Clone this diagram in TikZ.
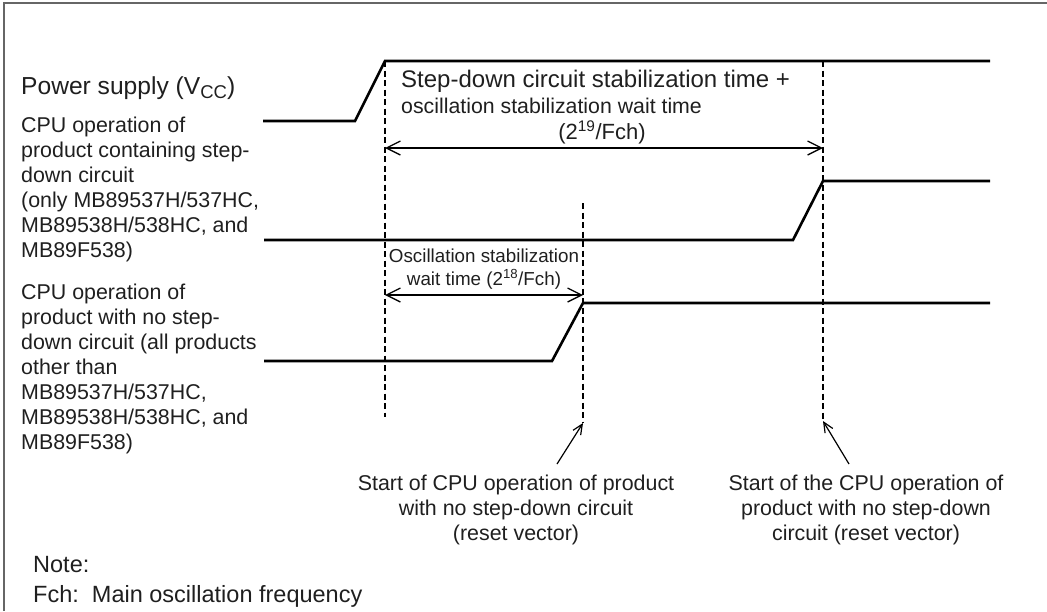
\documentclass[tikz,border=0pt]{standalone}
\usepackage{fontspec}
\setmainfont{Liberation Sans}
\usetikzlibrary{arrows.meta}
\newcommand\fsz[1]{\fontsize{#1}{#1}\selectfont}

\begin{document}
\begin{tikzpicture}[x=1pt,y=-1pt,
  wave/.style={line width=2.6pt, line join=miter, line cap=butt},
  guide/.style={line width=1.2pt, dash pattern=on 6pt off 3.5pt},
  dim/.style={line width=1.3pt,
    {Straight Barb[length=14pt,width=14pt]}-{Straight Barb[length=14pt,width=14pt]}},
  ptr/.style={line width=1.2pt, -{Straight Barb[length=10pt,width=9pt]}},
  lbl/.style={anchor=base west, inner sep=0pt, font=\fsz{21.4}, text=black!88},
  ctr/.style={anchor=base, inner sep=0pt, font=\fsz{21.4}, text=black!88}]

\useasboundingbox (0,0) rectangle (1047,611);

% frame
\draw[black!60, line width=1.6pt] (4,611) -- (4,3) -- (1047,3);

% timing guides
\coordinate (dA top) at (385,61);
\coordinate (dA bot) at (385,417);
\coordinate (dB top) at (583,203);
\coordinate (dB bot) at (583,423);
\coordinate (dC top) at (823,61);
\coordinate (dC bot) at (823,421);
\draw[guide] (dA top) -- (dA bot);
\draw[guide] (dB top) -- (dB bot);
\draw[guide] (dC top) -- (dC bot);

% waveforms
\draw[wave] (263,121) -- (355,121) -- (dA top) -- (990,61);
\draw[wave] (264,240) -- (793,240) -- (823,181) -- (990,181);
\draw[wave] (264,361) -- (552,361) -- (583,303) -- (990,303);

% left labels
\node[lbl, font=\fsz{24.6}] (vcc) at (21,94)
  {Power supply (V{\fsz{18.5}\raisebox{-4pt}{CC}})};
\foreach \t [count=\i] in {{CPU operation of},{product containing step-},{down circuit},
    {(only MB89537H/537HC,},{MB89538H/538HC, and},{MB89F538)}}
  \node[lbl] (up\i) at (21,{107+25*\i}) {\t};
\foreach \t [count=\i] in {{CPU operation of},{product with no step-},{down circuit (all products},
    {other than},{MB89537H/537HC,},{MB89538H/538HC, and},{MB89F538)}}
  \node[lbl] (lo\i) at (21,{274+25*\i}) {\t};

% wait time spans
\node[lbl, font=\fsz{24}] (sd1) at (401,87) {Step-down circuit stabilization time +};
\node[lbl, font=\fsz{21.3}] (sd2) at (401,113) {oscillation stabilization wait time};
\node[ctr, font=\fsz{22}] (sd3) at (602,139) {(2\textsuperscript{19}/Fch)};
\coordinate (w19L) at (385,148);
\coordinate (w19R) at (823,148);
\draw[dim] (w19L) -- (w19R);

\node[ctr, font=\fsz{18.8}] (os1) at (484,262) {Oscillation stabilization};
\node[ctr, font=\fsz{18.8}] (os2) at (484,285) {wait time (2\textsuperscript{18}/Fch)};
\coordinate (w18L) at (385,295);
\coordinate (w18R) at (583,295);
\draw[dim] (w18L) -- (w18R);

% reset vector callouts
\node[ctr] (sa1) at (516,490) {Start of CPU operation of product};
\node[ctr] (sa2) at (516,515) {with no step-down circuit};
\node[ctr] (sa3) at (516,540) {(reset vector)};
\coordinate (tailA) at (557,464);
\draw[ptr] (tailA) -- (dB bot);

\node[ctr] (sb1) at (866,490) {Start of the CPU operation of};
\node[ctr] (sb2) at (866,515) {product with no step-down};
\node[ctr] (sb3) at (866,540) {circuit (reset vector)};
\coordinate (tailB) at (849,464);
\draw[ptr] (tailB) -- (dC bot);

% note
\node[lbl, font=\fsz{23.5}] (note) at (33,572) {Note:};
\node[lbl, font=\fsz{23.5}] (fch) at (33,602) {Fch:\ \ Main oscillation frequency};
\end{tikzpicture}
\end{document}
